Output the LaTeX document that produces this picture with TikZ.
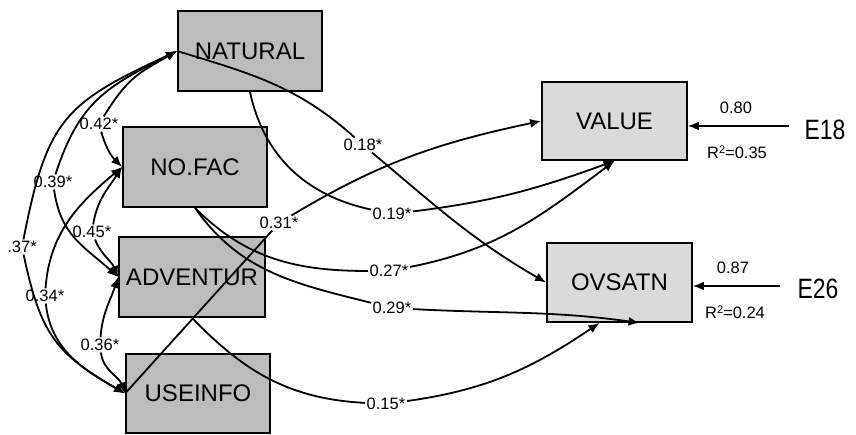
\documentclass[tikz,border=0pt]{standalone}
\usepackage{fontspec}
\setmainfont{Liberation Sans}
\usetikzlibrary{arrows.meta}
\definecolor{boxdark}{RGB}{188,188,188}
\definecolor{boxlight}{RGB}{218,218,218}
\newcommand{\rsq}{R\raisebox{5pt}{\fontsize{11}{11}\selectfont 2}}
\begin{document}
\begin{tikzpicture}[x=1pt,y=1pt,
  var/.style={draw=black, line width=1.8pt, minimum width=144pt, minimum height=80pt,
              inner sep=0pt, font=\fontsize{24}{24}\selectfont},
  exo/.style={var, fill=boxdark},
  endo/.style={var, fill=boxlight},
  coef/.style={inner sep=1.5pt, font=\fontsize{16.5}{16.5}\selectfont},
  errlbl/.style={inner ysep=2pt, font=\fontsize{28}{28}\selectfont},
  link/.style={line width=1.8pt},
  arr/.style={link, -{Latex[length=11pt,width=9pt]}},
]
\useasboundingbox (0,0) rectangle (856,435);

% observed variables
\node[exo] (natural) at (250,384) {NATURAL};
\node[exo] (nofac) at (195,268) {NO.FAC};
\node[exo, minimum width=146pt] (adv) at (192,158) {ADVENTUR};
\node[exo, minimum height=79pt] (use) at (198,41.5) {USEINFO};
\node[endo, minimum width=145pt, minimum height=78pt] (value) at (614.5,314) {VALUE};
\node[endo, minimum width=145pt, minimum height=79pt] (ovsatn) at (619.5,152.5) {OVSATN};

% error terms
\node[errlbl, inner xsep=15pt] (e18) at (825,305) {\scalebox{0.82}[1]{E18}};
\node[errlbl, inner xsep=17pt] (e26) at (818,146) {\scalebox{0.82}[1]{E26}};
\node[coef] (w18) at (736,327) {0.80};
\node[coef] (r18) at (737,283) {\rsq=0.35};
\node[coef] (w26) at (733,167) {0.87};
\node[coef] (r26) at (735,123) {\rsq=0.24};

% coefficient labels
\node[coef] (l42) at (99,311) {0.42*};
\node[coef] (l39) at (53,253) {0.39*};
\node[coef] (l37) at (22,188) {.37*};
\node[coef] (l45) at (92,203) {0.45*};
\node[coef] (l34) at (45,139) {0.34*};
\node[coef] (l36) at (100,90) {0.36*};
\node[coef] (l18) at (363,290) {0.18*};
\node[coef] (l19) at (392,221) {0.19*};
\node[coef] (l31) at (279,212) {0.31*};
\node[coef] (l27) at (389,164) {0.27*};
\node[coef] (l29) at (392,127) {0.29*};
\node[coef] (l15) at (386,31) {0.15*};

% correlations among the exogenous variables
\draw[arr] (l42) to[out=58,in=210,looseness=1.2] (natural.west);
\draw[arr] (l42) to[out=286,in=135] (nofac.west);
\draw[arr] (l39) to[out=72,in=207,looseness=1.15] (natural.west);
\draw[arr] (l39) to[out=278,in=138,looseness=1.1] (adv.west);
\draw[arr] (l37) to[out=79,in=205,looseness=1.3] (natural.west);
\draw[arr] (l37) to[out=282,in=150,looseness=1.2] (use.west);
\draw[arr] (l45) to[out=81,in=237] (nofac.west);
\draw[arr] (l45) to[out=292,in=112] (adv.west);
\draw[arr] (l34) to[out=86,in=220] (nofac.west);
\draw[arr] (l34) to[out=276,in=150] (use.west);
\draw[arr] (l36) to[out=86,in=252] (adv.west);
\draw[arr] (l36) to[out=277,in=110] (use.west);

% structural paths
\draw[link] (natural.west) to[out=-17,in=138] (l18);
\draw[arr] (l18) to[out=-40,in=150] (ovsatn.west);
\draw[link] (natural.south) to[out=282,in=168] (l19);
\draw[arr] (l19) to[out=7,in=200] (value.south);
\draw[link] (nofac.south) to[out=315,in=180] (l27);
\draw[arr] (l27) to[out=11,in=217] (value.south);
\draw[link] (nofac.south) to[out=305,in=166] (l29);
\draw[arr] (l29) to[out=-3,in=172] ([xshift=20pt]ovsatn.south);
\draw[link] (adv.south) to[out=314,in=177] (l15);
\draw[arr] (l15) to[out=8,in=214] ([xshift=-20pt]ovsatn.south);
\draw[link] (use.west) -- (l31);
\draw[arr] (l31) to[out=31,in=192] (value.west);

% residual paths
\path ([yshift=4pt]e18.west) coordinate (e18s);
\draw[arr] (e18s) -- (e18s -| value.east);
\path ([yshift=3pt]e26.west) coordinate (e26s);
\draw[arr] (e26s) -- (e26s -| ovsatn.east);
\end{tikzpicture}
\end{document}
